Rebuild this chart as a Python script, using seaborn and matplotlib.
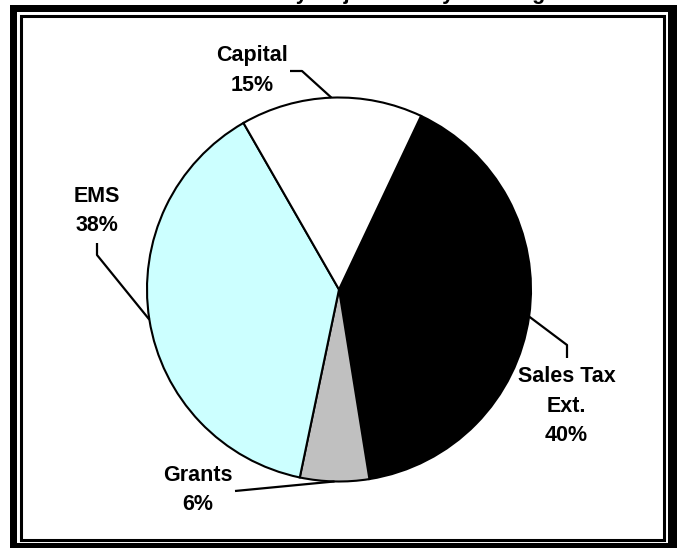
import numpy as np
import matplotlib
matplotlib.use("Agg")
import matplotlib.pyplot as plt
import matplotlib.patches as mpatches
import seaborn as sns

sns.set_style("white")
plt.rcParams['font.family'] = ['Liberation Sans', 'DejaVu Sans']
plt.rcParams['font.weight'] = 'bold'

# Data (clockwise from the top right)
categories = ["Sales Tax\nExt.", "Grants", "EMS", "Capital"]
values = [40.4, 5.8, 38.4, 15.3]
colors = ["#000000", "#C0C0C0", "#CCFFFF", "#FFFFFF"]
title = "Total Revenue by Major Activity Funding"

W, H = 677, 548


def py(y):
    # pixel row (from top) -> data y (from bottom)
    return H - y


fig = plt.figure(figsize=(W / 100, H / 100), dpi=100)
ax = fig.add_axes([0, 0, 1, 1])

# double frame
ax.add_patch(mpatches.Rectangle((10, py(548)), 667, 543, facecolor="black",
                                edgecolor="none", zorder=0))
ax.add_patch(mpatches.Rectangle((17, py(543)), 651, 531, facecolor="white",
                                edgecolor="none", zorder=0))
ax.add_patch(mpatches.Rectangle((20.5, py(540)), 643.5, 524.5, facecolor="none",
                                edgecolor="black", lw=2.2, zorder=1))

center = (339, py(289.5))
radius = 192
wedges, _ = ax.pie(values, colors=colors, startangle=64.7, counterclock=False,
                   center=center, radius=radius,
                   wedgeprops=dict(edgecolor="black", linewidth=1.5))

total = sum(values)
labels = [f"{c}\n{v / total * 100:.0f}%" for c, v in zip(categories, values)]


def edge_point(w):
    a = np.deg2rad((w.theta1 + w.theta2) / 2)
    return center[0] + radius * np.cos(a), center[1] + radius * np.sin(a)


# label placement (x, y pixel) and leader path (pixel coords, ending on the wedge)
label_pos = [(566.5, 406), (198, 490), (97, 211), (252, 70.5)]
leaders = [
    [(567, 358), (567, 345)],
    [(235, 491)],
    [(97, 243), (97, 255)],
    [(290, 71), (302, 71)],
]

for w, lab, (lx, ly), path in zip(wedges, labels, label_pos, leaders):
    ax.text(lx, py(ly), lab, ha="center", va="center", fontsize=15.5,
            fontweight="bold", linespacing=1.55, color="black")
    ex, ey = edge_point(w)
    xs = [p[0] for p in path] + [ex]
    ys = [py(p[1]) for p in path] + [ey]
    ax.plot(xs, ys, color="black", lw=1.6, solid_capstyle="butt", zorder=5)

# title, clipped by the top edge of the image
ax.text(338, py(-1), title, ha="center", va="baseline", fontsize=15.5,
        fontweight="bold", color="black")

ax.set_xlim(0, W)
ax.set_ylim(0, H)
ax.axis("off")

fig.savefig("out.png", dpi=100)
